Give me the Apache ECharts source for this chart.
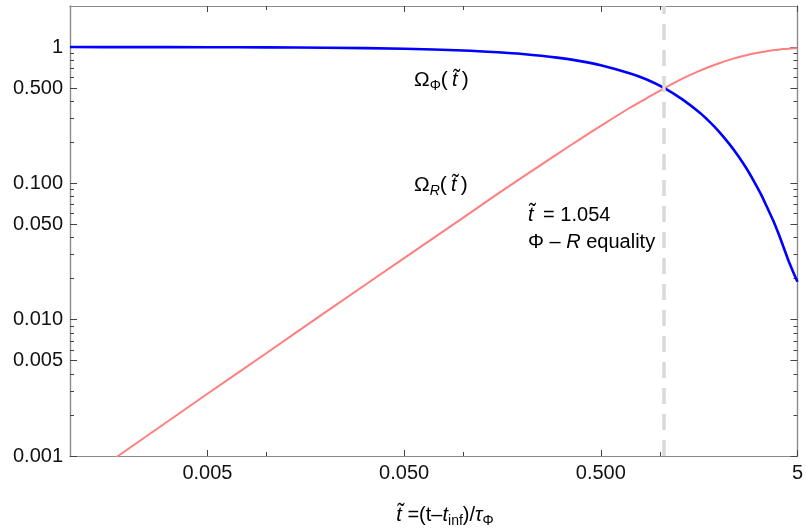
<!DOCTYPE html>
<html><head><meta charset="utf-8">
<script src="https://cdn.jsdelivr.net/npm/echarts@6/dist/echarts.min.js"></script>
<style>html,body{margin:0;padding:0;background:#fff}#c{width:806px;height:532px}</style>
</head><body><div id="c"></div>
<script>
// ---- data ----
const tValues = [0.001, 0.002, 0.005, 0.01, 0.02, 0.05, 0.1, 0.15, 0.2, 0.3, 0.4, 0.5, 0.7, 0.85, 1.054, 1.3, 1.6, 1.8, 2.0, 2.25, 2.5, 2.75, 3.0, 3.25, 3.5, 3.75, 4.0, 4.25, 4.5, 4.75, 5.0];
const omegaPhi = [0.9994, 0.9989, 0.9971, 0.9943, 0.9886, 0.9717, 0.944, 0.916, 0.889, 0.836, 0.785, 0.736, 0.643, 0.581, 0.500, 0.413, 0.328, 0.280, 0.239, 0.195, 0.159, 0.129, 0.104, 0.084, 0.067, 0.054, 0.043, 0.034, 0.0272, 0.0225, 0.019];
const omegaR = [0.00057, 0.00114, 0.00286, 0.0057, 0.0114, 0.0283, 0.056, 0.084, 0.111, 0.164, 0.215, 0.264, 0.357, 0.419, 0.500, 0.587, 0.672, 0.720, 0.761, 0.805, 0.841, 0.871, 0.896, 0.916, 0.933, 0.946, 0.957, 0.966, 0.973, 0.978, 0.981];
const tEquality = 1.054;

const xRange = [0.001, 5];
const yRange = [0.001, 2];
const xMajorTicks = [0.005, 0.05, 0.5, 5];
const xMajorLabels = ['0.005', '0.050', '0.500', '5'];
const xMinorTicks = [0.01, 0.1, 1];
const yMajorTicks = [0.001, 0.005, 0.01, 0.05, 0.1, 0.5, 1];
const yMajorLabels = ['0.001', '0.005', '0.010', '0.050', '0.100', '0.500', '1'];
const yMinorTicks = [0.002, 0.003, 0.004, 0.006, 0.007, 0.008, 0.009,
                     0.02, 0.03, 0.04, 0.06, 0.07, 0.08, 0.09,
                     0.2, 0.3, 0.4, 0.6, 0.7, 0.8, 0.9];

const FONT = 'Liberation Sans, Arial, sans-serif';

function lookup(ticks, labels) {
  return function (v) {
    for (let i = 0; i < ticks.length; i++) {
      if (Math.abs(v - ticks[i]) / ticks[i] < 1e-6) return labels[i];
    }
    return '';
  };
}

function makeAxis(range, pos, ticks, len, labels) {
  const ax = {
    type: 'log', logBase: 10, min: range[0], max: range[1], position: pos,
    axisLine: { show: true, onZero: false, lineStyle: { color: '#8a8a8a', width: 1.2 } },
    axisTick: { show: true, inside: true, length: len, customValues: ticks,
                lineStyle: { color: '#444', width: 1 } },
    axisLabel: { show: false },
    splitLine: { show: false },
    minorTick: { show: false },
    minorSplitLine: { show: false }
  };
  if (labels) {
    ax.axisLabel = { show: true, customValues: ticks, formatter: lookup(ticks, labels),
                     fontSize: 20, color: '#111', fontFamily: FONT, margin: 7 };
  }
  return ax;
}

const rich = {
  n: { fontSize: 20, fontFamily: FONT, color: '#111', lineHeight: 26 },
  big: { fontSize: 21, fontFamily: FONT, color: '#111', lineHeight: 26 },
  it: { fontSize: 20, fontFamily: FONT, fontStyle: 'italic', color: '#111', lineHeight: 26 },
  sub: { fontSize: 14, fontFamily: FONT, color: '#111', lineHeight: 12, verticalAlign: 'bottom' },
  subit: { fontSize: 14, fontFamily: FONT, fontStyle: 'italic', color: '#111', lineHeight: 12, verticalAlign: 'bottom' }
};

const chart = echarts.init(document.getElementById('c'), null, { renderer: 'canvas' });
chart.setOption({
  animation: false,
  backgroundColor: '#ffffff',
  grid: { left: 70, right: 5, top: 6, bottom: 76, containLabel: false },
  xAxis: [
    makeAxis(xRange, 'bottom', xMajorTicks, 6, xMajorLabels),
    makeAxis(xRange, 'bottom', xMinorTicks, 4, null),
    makeAxis(xRange, 'top', xMajorTicks, 6, null),
    makeAxis(xRange, 'top', xMinorTicks, 4, null)
  ],
  yAxis: [
    makeAxis(yRange, 'left', yMajorTicks, 7, yMajorLabels),
    makeAxis(yRange, 'left', yMinorTicks, 4, null),
    makeAxis(yRange, 'right', yMajorTicks, 7, null),
    makeAxis(yRange, 'right', yMinorTicks, 4, null)
  ],
  series: [
    {
      name: 'OmegaR', type: 'line', xAxisIndex: 0, yAxisIndex: 0,
      data: tValues.map((t, i) => [t, omegaR[i]]),
      showSymbol: false, smooth: 0.3, clip: true,
      lineStyle: { color: '#ff7f7f', width: 2 }
    },
    {
      name: 'OmegaPhi', type: 'line', xAxisIndex: 0, yAxisIndex: 0,
      data: tValues.map((t, i) => [t, omegaPhi[i]]),
      showSymbol: false, smooth: 0.3, clip: true,
      lineStyle: { color: '#0000ff', width: 2.6 },
      markLine: {
        silent: true, symbol: 'none', label: { show: false },
        lineStyle: { color: '#d9d9d9', width: 3.5, type: [16, 10] },
        data: [{ xAxis: tEquality }]
      }
    }
  ],
  graphic: [
    { type: 'text', left: 414, top: 70, z: 10,
      style: { text: '{big|Ω}{sub|Φ}{big|(\u2009}{it|t\u0303}{big|\u2009)}', rich: rich } },
    { type: 'text', left: 414, top: 175, z: 10,
      style: { text: '{big|Ω}{subit|R}{big|(\u2009}{it|t\u0303}{big|\u2009)}', rich: rich } },
    { type: 'text', left: 528, top: 205, z: 10,
      style: { text: '{it|t\u0303}{n|\u2009 = 1.054}', rich: rich } },
    { type: 'text', left: 528, top: 232, z: 10,
      style: { text: '{n|Φ – }{it|R}{n| equality}', rich: rich } },
    { type: 'text', z: 10,
      style: { x: 445, y: 515, align: 'center', verticalAlign: 'middle',
               text: '{it|t\u0303}{n| =(t–}{it|t}{sub|inf}{n|)/}{it|τ}{sub|Φ}', rich: rich } }
  ]
});
</script></body></html>
